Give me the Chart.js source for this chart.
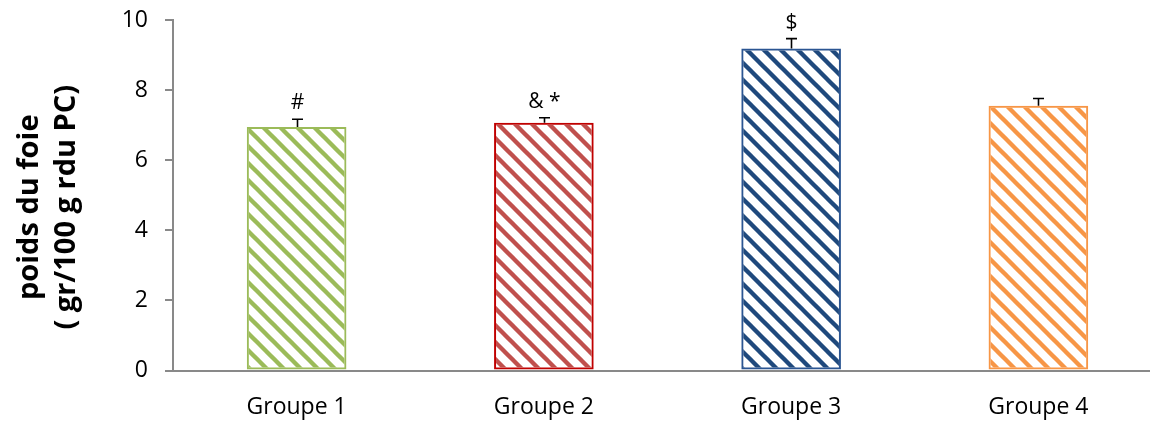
<!DOCTYPE html>
<html>
<head>
<meta charset="utf-8">
<script src="https://cdn.jsdelivr.net/npm/chart.js@4.4.1/dist/chart.umd.min.js"></script>
<style>
  html, body { margin: 0; padding: 0; overflow: hidden; background: #fff; }
</style>
</head>
<body>
<canvas id="chart" width="1162" height="421"></canvas>
<script>
// Liver weight per group (g / 100 g body weight), mean and SEM
const groups = ['Groupe 1', 'Groupe 2', 'Groupe 3', 'Groupe 4'];
const liverWeight = [6.95, 7.07, 9.19, 7.55];
const liverSem = [0.22, 0.14, 0.28, 0.21];
const significance = ['#', '& *', '$', ''];
const yTicks = [0, 2, 4, 6, 8, 10];
const yTitle = ['poids du foie', '( gr/100 g rdu PC)'];

// Palette: hatch colour and outline colour per group
const hatchColors = ['#9BBB59', '#C0504D', '#1F497D', '#F79646'];
const edgeColors = ['#9BBB59', '#C00000', '#2B5592', '#F79646'];
const axisGray = '#898989';
const FONT = '"Open Sans", "DejaVu Sans", sans-serif';

// Diagonal "\" hatch fill
function hatch(color) {
  const s = 17;
  const tile = document.createElement('canvas');
  tile.width = s; tile.height = s;
  const g = tile.getContext('2d');
  g.strokeStyle = color;
  g.lineWidth = 4.4;
  for (const o of [-s, 0, s]) {
    g.beginPath();
    g.moveTo(o - 3, -3);
    g.lineTo(o + s + 3, s + 3);
    g.stroke();
  }
  return document.createElement('canvas').getContext('2d').createPattern(tile, 'repeat');
}

// Error bars, significance marks and rotated axis title
const overlay = {
  id: 'overlay',
  afterDatasetsDraw(chart) {
    const { ctx, scales: { x, y } } = chart;
    ctx.save();
    liverWeight.forEach((v, i) => {
      const px = Math.round(x.getPixelForValue(i)) + 0.5;
      const yTop = y.getPixelForValue(v);
      const yCap = y.getPixelForValue(v + liverSem[i]);
      ctx.strokeStyle = '#000';
      ctx.lineWidth = 1.6;
      ctx.beginPath();
      ctx.moveTo(px, yTop);
      ctx.lineTo(px, yCap);
      ctx.moveTo(px - 5.5, yCap);
      ctx.lineTo(px + 5.5, yCap);
      ctx.stroke();
      if (significance[i]) {
        ctx.fillStyle = '#000';
        ctx.font = '21px ' + FONT;
        ctx.textAlign = 'center';
        ctx.textBaseline = 'alphabetic';
        ctx.fillText(significance[i], px, yCap - 10);
      }
    });
    ctx.restore();
  },
  afterDraw(chart) {
    const { ctx, chartArea } = chart;
    const cy = (chartArea.top + chartArea.bottom) / 2 + 12;
    ctx.save();
    ctx.fillStyle = '#000';
    ctx.font = 'bold 29px ' + FONT;
    ctx.textAlign = 'center';
    ctx.textBaseline = 'middle';
    yTitle.forEach((line, i) => {
      ctx.save();
      ctx.translate(30 + i * 37, cy);
      ctx.rotate(-Math.PI / 2);
      ctx.fillText(line, 0, 0);
      ctx.restore();
    });
    ctx.restore();
  }
};

function draw() {
  new Chart(document.getElementById('chart'), {
    type: 'bar',
    data: {
      labels: groups,
      datasets: [{
        data: liverWeight,
        backgroundColor: hatchColors.map(hatch),
        borderColor: edgeColors,
        borderWidth: 2,
        borderSkipped: false,
        categoryPercentage: 1,
        barPercentage: 0.403
      }]
    },
    options: {
      responsive: false,
      animation: false,
      devicePixelRatio: 1,
      layout: { padding: { top: 20, left: 0, right: 0, bottom: 0 } },
      plugins: { legend: { display: false }, tooltip: { enabled: false } },
      scales: {
        x: {
          offset: true,
          grid: { display: false, drawTicks: false },
          border: { color: axisGray, width: 2 },
          ticks: { padding: 23, color: '#000', font: { family: FONT, size: 23 } },
          afterFit: s => { s.height = 50.5; }
        },
        y: {
          min: 0,
          max: 10,
          afterBuildTicks: s => { s.ticks = yTicks.map(v => ({ value: v })); },
          grid: { drawOnChartArea: false, drawTicks: true, tickLength: 8, color: axisGray, lineWidth: 2 },
          border: { color: axisGray, width: 2 },
          ticks: { padding: 17, color: '#000', font: { family: FONT, size: 23 } },
          afterFit: s => { s.width = 173; s.paddingTop = 0; s.paddingBottom = 0; }
        }
      }
    },
    plugins: [overlay]
  });
}

Promise.all([
  document.fonts.load('23px "Open Sans"'),
  document.fonts.load('bold 29px "Open Sans"')
]).then(draw, draw);
</script>
</body>
</html>
